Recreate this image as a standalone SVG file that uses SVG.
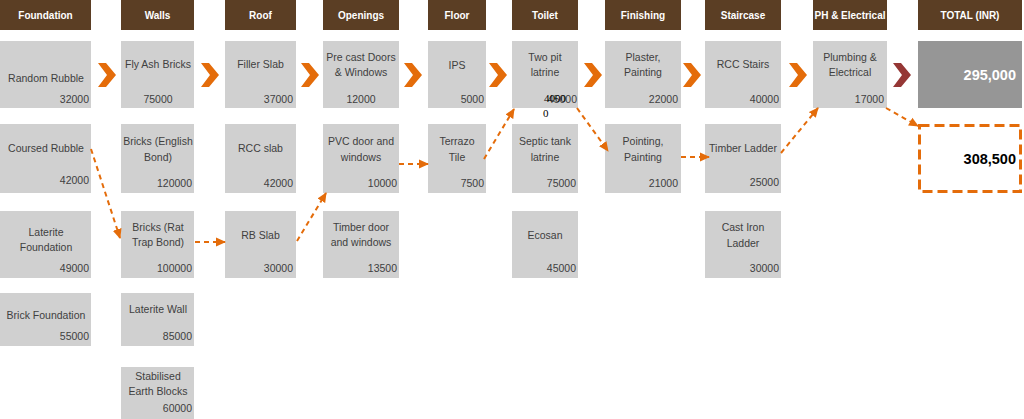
<svg xmlns="http://www.w3.org/2000/svg" width="1024" height="419" viewBox="0 0 1024 419">
<defs>
<style>
.hd{fill:#5B3E24}
.ht{fill:#fff;font-family:"Liberation Sans",Arial,sans-serif;font-size:10px;font-weight:bold;text-anchor:middle}
.bx{fill:#D0D0D0}
.t{fill:#404040;font-family:"Liberation Sans",Arial,sans-serif;font-size:10.5px;text-anchor:middle}
.n{fill:#404040;font-family:"Liberation Sans",Arial,sans-serif;font-size:10.5px;text-anchor:end}
.nc{fill:#404040;font-family:"Liberation Sans",Arial,sans-serif;font-size:10.5px;text-anchor:middle}
.ch{fill:#E46C0A}
.con{stroke:#E46C0A;stroke-width:2;stroke-dasharray:5,4;fill:none;marker-end:url(#ah)}
</style>
<marker id="ah" markerWidth="10" markerHeight="10" refX="9" refY="5" orient="auto" markerUnits="userSpaceOnUse">
<path d="M0,0.5 L10,5 L0,9.5 Z" fill="#E46C0A"/>
</marker>
<path id="chev" d="M0,0 L8,0 L18,12 L8,24 L0,24 L9,12 Z"/>
</defs>
<rect width="1024" height="419" fill="#fff"/>

<g id="headers">
<rect class="hd" x="0" y="0" width="91" height="30"/><text class="ht" x="45.5" y="19">Foundation</text>
<rect class="hd" x="121" y="0" width="73" height="30"/><text class="ht" x="157.5" y="19">Walls</text>
<rect class="hd" x="225" y="0" width="71" height="30"/><text class="ht" x="260.5" y="19">Roof</text>
<rect class="hd" x="323" y="0" width="76" height="30"/><text class="ht" x="361" y="19">Openings</text>
<rect class="hd" x="428" y="0" width="58" height="30"/><text class="ht" x="457" y="19">Floor</text>
<rect class="hd" x="512" y="0" width="66" height="30"/><text class="ht" x="545" y="19">Toilet</text>
<rect class="hd" x="605" y="0" width="76" height="30"/><text class="ht" x="643" y="19">Finishing</text>
<rect class="hd" x="705" y="0" width="76" height="30"/><text class="ht" x="743" y="19">Staircase</text>
<rect class="hd" x="813" y="0" width="74" height="30"/><text class="ht" x="850" y="19" textLength="71" lengthAdjust="spacingAndGlyphs">PH &amp; Electrical</text>
<rect class="hd" x="918" y="0" width="104" height="30"/><text class="ht" x="970" y="19">TOTAL (INR)</text>
</g>

<g id="chevrons">
<use href="#chev" class="ch" x="98" y="63"/>
<use href="#chev" class="ch" x="201" y="63"/>
<use href="#chev" class="ch" x="301" y="63"/>
<use href="#chev" class="ch" x="404" y="63"/>
<use href="#chev" class="ch" x="489" y="63"/>
<use href="#chev" class="ch" x="584" y="63"/>
<use href="#chev" class="ch" x="683" y="63"/>
<use href="#chev" class="ch" x="789" y="63"/>
<use href="#chev" fill="#953735" x="893" y="63"/>
</g>

<g id="random-rubble"><rect class="bx" x="0" y="41" width="91" height="67"/><text class="t" x="46" y="82">Random Rubble</text><text class="n" x="89" y="103">32000</text></g>
<g id="coursed-rubble"><rect class="bx" x="0" y="124" width="91" height="69"/><text class="t" x="46" y="152">Coursed Rubble</text><text class="n" x="89" y="184">42000</text></g>
<g id="laterite-foundation"><rect class="bx" x="0" y="211" width="91" height="67"/><text class="t" x="46" y="236">Laterite</text><text class="t" x="46" y="251">Foundation</text><text class="n" x="89" y="272">49000</text></g>
<g id="brick-foundation"><rect class="bx" x="0" y="293" width="91" height="53"/><text class="t" x="46" y="319">Brick Foundation</text><text class="n" x="89" y="340">55000</text></g>

<g id="fly-ash-bricks"><rect class="bx" x="121" y="41" width="73" height="67"/><text class="t" x="158" y="68">Fly Ash Bricks</text><text class="nc" x="158" y="103">75000</text></g>
<g id="bricks-english"><rect class="bx" x="121" y="124" width="73" height="69"/><text class="t" x="158" y="145">Bricks (English</text><text class="t" x="158" y="161">Bond)</text><text class="n" x="192" y="187">120000</text></g>
<g id="bricks-rat-trap"><rect class="bx" x="121" y="211" width="73" height="67"/><text class="t" x="158" y="231">Bricks (Rat</text><text class="t" x="158" y="246">Trap Bond)</text><text class="n" x="192" y="272">100000</text></g>
<g id="laterite-wall"><rect class="bx" x="121" y="293" width="73" height="53"/><text class="t" x="158" y="313">Laterite Wall</text><text class="n" x="192" y="340">85000</text></g>
<g id="stabilised-earth"><rect class="bx" x="121" y="367" width="73" height="52"/><text class="t" x="158" y="380">Stabilised</text><text class="t" x="158" y="395">Earth Blocks</text><text class="n" x="192" y="412">60000</text></g>

<g id="filler-slab"><rect class="bx" x="225" y="41" width="71" height="67"/><text class="t" x="260.5" y="68">Filler Slab</text><text class="n" x="293" y="103">37000</text></g>
<g id="rcc-slab"><rect class="bx" x="225" y="124" width="71" height="69"/><text class="t" x="260.5" y="152">RCC slab</text><text class="n" x="293" y="187">42000</text></g>
<g id="rb-slab"><rect class="bx" x="225" y="211" width="71" height="67"/><text class="t" x="260.5" y="239">RB Slab</text><text class="n" x="293" y="272">30000</text></g>

<g id="precast-doors"><rect class="bx" x="323" y="41" width="76" height="67"/><text class="t" x="361" y="61">Pre cast Doors</text><text class="t" x="361" y="76">&amp; Windows</text><text class="nc" x="361" y="103">12000</text></g>
<g id="pvc-door"><rect class="bx" x="323" y="124" width="76" height="69"/><text class="t" x="361" y="145">PVC door and</text><text class="t" x="361" y="161">windows</text><text class="n" x="397" y="187">10000</text></g>
<g id="timber-door"><rect class="bx" x="323" y="211" width="76" height="67"/><text class="t" x="361" y="231">Timber door</text><text class="t" x="361" y="246">and windows</text><text class="n" x="397" y="272">13500</text></g>

<g id="ips"><rect class="bx" x="428" y="41" width="58" height="67"/><text class="t" x="457" y="69">IPS</text><text class="n" x="484" y="103">5000</text></g>
<g id="terrazo"><rect class="bx" x="428" y="124" width="58" height="69"/><text class="t" x="457" y="145">Terrazo</text><text class="t" x="457" y="161">Tile</text><text class="n" x="484" y="187">7500</text></g>

<g id="two-pit-latrine"><rect class="bx" x="512" y="41" width="66" height="67"/><text class="t" x="545" y="61">Two pit</text><text class="t" x="545" y="76">latrine</text><text class="n" x="577" y="103">45000</text><text x="544" y="102" fill="#000" font-family="Liberation Serif,serif" font-size="11">4000</text><text x="543" y="117" fill="#000" font-family="Liberation Serif,serif" font-size="11">0</text></g>
<g id="septic-tank"><rect class="bx" x="512" y="124" width="66" height="69"/><text class="t" x="545" y="145">Septic tank</text><text class="t" x="545" y="161">latrine</text><text class="n" x="576" y="187">75000</text></g>
<g id="ecosan"><rect class="bx" x="512" y="211" width="66" height="67"/><text class="t" x="545" y="239">Ecosan</text><text class="n" x="576" y="272">45000</text></g>

<g id="plaster-painting"><rect class="bx" x="605" y="41" width="76" height="67"/><text class="t" x="643" y="61">Plaster,</text><text class="t" x="643" y="76">Painting</text><text class="n" x="678" y="103">22000</text></g>
<g id="pointing-painting"><rect class="bx" x="605" y="124" width="76" height="69"/><text class="t" x="643" y="145">Pointing,</text><text class="t" x="643" y="161">Painting</text><text class="n" x="678" y="187">21000</text></g>

<g id="rcc-stairs"><rect class="bx" x="705" y="41" width="76" height="67"/><text class="t" x="743" y="68">RCC Stairs</text><text class="n" x="779" y="103">40000</text></g>
<g id="timber-ladder"><rect class="bx" x="705" y="124" width="76" height="69"/><text class="t" x="743" y="152">Timber Ladder</text><text class="n" x="779" y="186">25000</text></g>
<g id="cast-iron-ladder"><rect class="bx" x="705" y="211" width="76" height="67"/><text class="t" x="743" y="231">Cast Iron</text><text class="t" x="743" y="247">Ladder</text><text class="n" x="779" y="272">30000</text></g>

<g id="plumbing-electrical"><rect class="bx" x="813" y="41" width="74" height="67"/><text class="t" x="850" y="61">Plumbing &amp;</text><text class="t" x="850" y="76">Electrical</text><text class="n" x="884" y="103">17000</text></g>

<g id="total-295000"><rect x="918" y="41" width="104" height="67" fill="#969696"/><text x="1016" y="80" fill="#fff" font-family="Liberation Sans,Arial,sans-serif" font-size="14.5" font-weight="bold" text-anchor="end">295,000</text></g>
<g id="total-308500"><rect x="919.5" y="125.5" width="101" height="66" fill="#fff" stroke="#E46C0A" stroke-width="3" stroke-dasharray="10,5"/><text x="1016" y="164" fill="#000" font-family="Liberation Sans,Arial,sans-serif" font-size="14.5" font-weight="bold" text-anchor="end">308,500</text></g>

<g id="connectors">
<line class="con" x1="91" y1="149" x2="120" y2="238"/>
<line class="con" x1="195" y1="242" x2="225" y2="242"/>
<line class="con" x1="297" y1="241" x2="326" y2="193"/>
<line class="con" x1="399" y1="164" x2="428" y2="164"/>
<line class="con" x1="484" y1="159" x2="514" y2="109"/>
<line class="con" x1="577" y1="108" x2="608" y2="151"/>
<line class="con" x1="681" y1="157" x2="709" y2="157"/>
<line class="con" x1="781" y1="153" x2="818" y2="108"/>
<line class="con" x1="886" y1="108" x2="918" y2="126"/>
</g>
</svg>
